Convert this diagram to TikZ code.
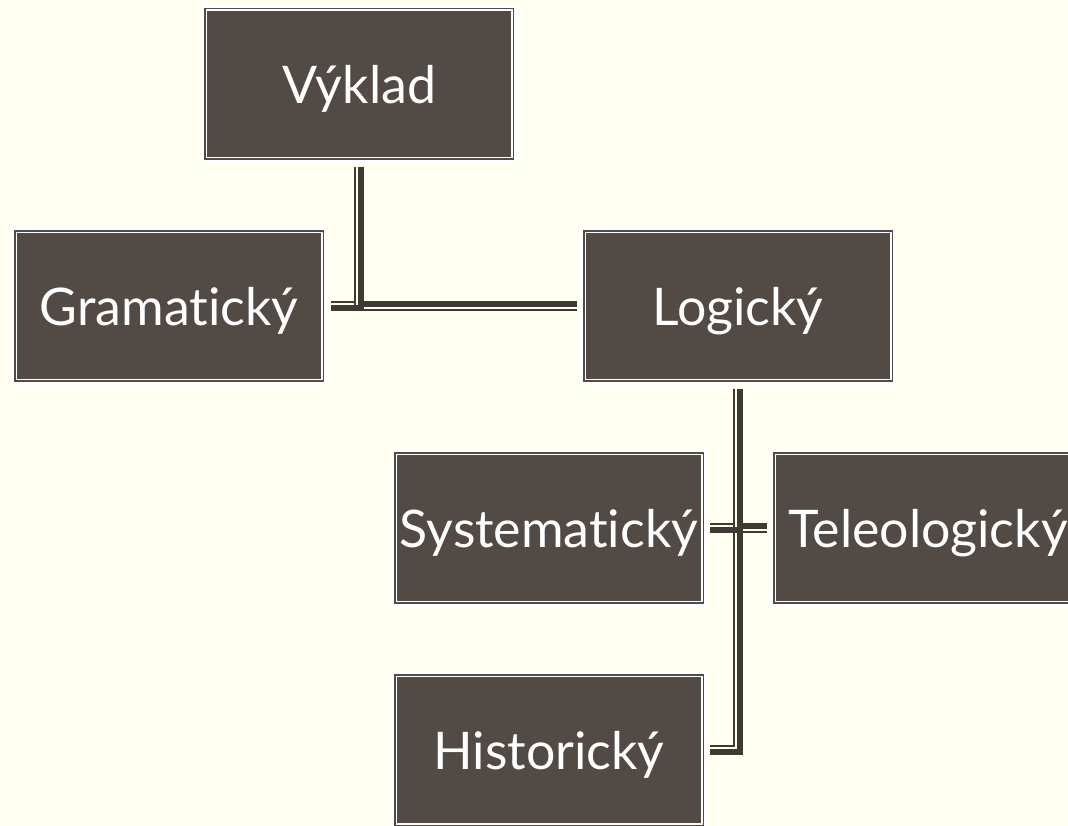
\documentclass[tikz,border=0pt]{standalone}
\usepackage{fontspec}
\setmainfont{Lato}[Ligatures=NoCommon]
\usepackage{tikz}

\definecolor{bgcream}{RGB}{255,255,242}
\definecolor{boxbrown}{RGB}{82,74,69}
\definecolor{linebrown}{RGB}{65,57,52}

\tikzset{
  box/.style={rectangle,fill=boxbrown,draw=boxbrown,double=white,
    double distance=0.85pt,line width=0.85pt,
    preaction={draw=white,double=white,line width=2.6pt},
    minimum width=6.11cm,minimum height=2.95cm,inner sep=0pt,outer sep=0pt,
    text depth=0pt,text=white,font=\fontsize{29.5}{36}\selectfont},
  thinln/.style={draw=linebrown,line width=0.85pt,line join=miter},
  thickln/.style={draw=linebrown,line width=3.4pt,line join=miter}
}

\begin{document}
\begin{tikzpicture}

  \fill[bgcream] (0,0) rectangle (21.36,-16.52);
  \useasboundingbox (0,0) rectangle (21.36,-16.52);

  \draw (7.18,-1.68) node[box] (vyklad) {Výklad};
  \draw (3.38,-6.12) node[box] (gram) {Gramatický};
  \draw (14.76,-6.12) node[box] (logic) {Logický};
  \draw (10.98,-10.56) node[box] (syst) {Systematický};
  \draw (18.56,-10.56) node[box] (teleo) {Teleologický};
  \draw (10.98,-15.0) node[box] (hist) {Historický};

  \coordinate (j1) at (vyklad.south |- gram.east);
  \coordinate (j2) at (logic.south |- syst.east);
  \coordinate (j3) at (logic.south |- hist.east);

  % Vyklad -> Gramaticky, Logicky
  \draw[thinln] ([xshift=-2.27pt,yshift=-5pt]vyklad.south) -- ([xshift=-2.27pt,yshift=2.27pt]j1) -- ([xshift=5pt,yshift=2.27pt]gram.east);
  \draw[thickln] ([xshift=0.99pt,yshift=-5pt]vyklad.south) -- ([xshift=0.99pt,yshift=-0.99pt]j1) -- ([xshift=5pt,yshift=-0.99pt]gram.east);
  \draw[thinln] ([xshift=-2.27pt,yshift=-5pt]vyklad.south) -- ([xshift=-2.27pt,yshift=-2.27pt]j1) -- ([xshift=-4.6pt,yshift=-2.27pt]logic.west);
  \draw[thickln] ([xshift=0.99pt,yshift=-5pt]vyklad.south) -- ([xshift=0.99pt,yshift=0.99pt]j1) -- ([xshift=-4.6pt,yshift=0.99pt]logic.west);

  % Logicky -> Systematicky, Teleologicky, Historicky
  \draw[thinln] ([xshift=-2.27pt,yshift=-5pt]logic.south) -- ([xshift=-2.27pt,yshift=2.27pt]j2) -- ([xshift=4.6pt,yshift=2.27pt]syst.east);
  \draw[thickln] ([xshift=0.99pt,yshift=-5pt]logic.south) -- ([xshift=0.99pt,yshift=-0.99pt]j2) -- ([xshift=4.6pt,yshift=-0.99pt]syst.east);
  \draw[thinln] ([xshift=-2.27pt,yshift=-5pt]logic.south) -- ([xshift=-2.27pt,yshift=-2.27pt]j2) -- ([xshift=-4.8pt,yshift=-2.27pt]teleo.west);
  \draw[thickln] ([xshift=0.99pt,yshift=-5pt]logic.south) -- ([xshift=0.99pt,yshift=0.99pt]j2) -- ([xshift=-4.8pt,yshift=0.99pt]teleo.west);
  \draw[thinln] ([xshift=-2.27pt,yshift=-5pt]logic.south) -- ([xshift=-2.27pt,yshift=2.27pt]j3) -- ([xshift=4.6pt,yshift=2.27pt]hist.east);
  \draw[thickln] ([xshift=0.99pt,yshift=-5pt]logic.south) -- ([xshift=0.99pt,yshift=-0.99pt]j3) -- ([xshift=4.6pt,yshift=-0.99pt]hist.east);

\end{tikzpicture}
\end{document}
